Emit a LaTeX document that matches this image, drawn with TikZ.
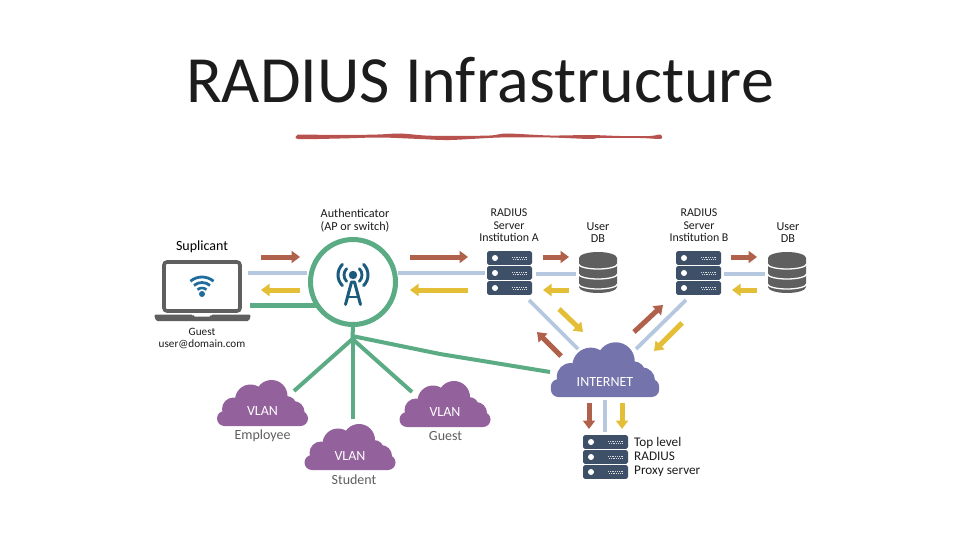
\documentclass[tikz,border=0pt]{standalone}
\usepackage{fontspec}
\setmainfont{Carlito}
\usetikzlibrary{arrows.meta}
\definecolor{rbrown}{HTML}{B0614B}
\definecolor{rblue}{HTML}{B5C8DF}
\definecolor{ryellow}{HTML}{E3BE36}
\definecolor{rgreen}{HTML}{5BAB85}
\definecolor{rpurple}{HTML}{93619B}
\definecolor{rinet}{HTML}{7473AB}
\definecolor{rserver}{HTML}{3D5067}
\definecolor{rgray}{HTML}{5F5F5F}
\definecolor{rteal}{HTML}{1B5C7E}
\definecolor{rwifi}{HTML}{1F6C9E}
\definecolor{rred}{HTML}{B8524F}
\definecolor{rtext}{HTML}{1C1C1C}
\tikzset{
  x=1pt,y=-1pt,
  brownarrow/.style={draw=rbrown,line width=5pt,-{Triangle[length=8.5pt,width=12pt]}},
  yellowarrow/.style={draw=ryellow,line width=5pt,-{Triangle[length=8.5pt,width=12pt]}},
  blueline/.style={draw=rblue,line width=3.8pt},
  greenline/.style={draw=rgreen,line width=4pt},
  lbl/.style={font=\fontsize{12.2}{12.3}\selectfont,text=rtext,align=center,inner sep=0pt},
  vlbl/.style={font=\fontsize{14}{15}\selectfont,text=#1,inner sep=0pt},
  sublbl/.style={font=\fontsize{14}{15}\selectfont,text=rgray,inner sep=0pt},
  cloud/.pic={
    \fill[pic actions,rounded corners=7.5pt] (-45.5,-15) rectangle (45.5,0);
    \fill[pic actions] (-33,-19) rectangle (34,-5);
    \fill[pic actions] (-29,-17) circle[radius=11.5pt];
    \fill[pic actions] (-12,-26) circle[radius=15.5pt];
    \fill[pic actions] (9,-30) circle[radius=16pt];
    \fill[pic actions] (24,-20) circle[radius=10pt];
    \fill[pic actions] (31,-14) circle[radius=11pt];
  },
  rack/.pic={
    \foreach \yy in {0,15,30}{
      \fill[rserver,rounded corners=1.8pt] (0,\yy) rectangle (45,\yy+13.9);
      \fill[white] (8,\yy+7) circle[radius=3pt];
      \draw[white!80!rserver,line width=.8pt,dash pattern=on .9pt off .9pt] (25,\yy+6) -- (40,\yy+6);
      \draw[white!80!rserver,line width=.8pt,dash pattern=on .9pt off .9pt] (26,\yy+8) -- (39,\yy+8);
    }
  },
  dbstack/.pic={
    \fill[rgray] (0,6) arc[start angle=180,end angle=360,x radius=19pt,y radius=6pt] arc[start angle=0,end angle=180,x radius=19pt,y radius=6pt] -- cycle;
    \fill[rgray] (0,6) -- (38,6) -- (38,35) arc[start angle=0,end angle=-180,x radius=19pt,y radius=6pt] -- cycle;
    \draw[white,line width=1.3pt] (-.5,12) arc[start angle=180,end angle=360,x radius=19.5pt,y radius=5pt];
    \draw[white,line width=1.3pt] (-.5,22) arc[start angle=180,end angle=360,x radius=19.5pt,y radius=5pt];
    \draw[white,line width=1.3pt] (-.5,32) arc[start angle=180,end angle=360,x radius=19.5pt,y radius=5pt];
  }
}
\begin{document}
\begin{tikzpicture}
\useasboundingbox (0,0) rectangle (960,540);
\fill[white] (0,0) rectangle (960,540);
% title
\node[font=\fontsize{66}{70}\selectfont,text=rtext,inner sep=0pt] (title) at (480,80) {RADIUS Infrastructure};
\fill[rred] plot[smooth] coordinates {(298,134.5)(345,135)(378,134.5)(400,133.5)(425,135.5)(450,136)(490,135.5)(507,133.5)(550,135.5)(590,135)(620,136)(650,136)(660,134.5)(662,137)(660,139)(640,138)(600,138)(590,139)(550,137.5)(500,137.5)(450,140)(420,139)(380,137.5)(340,138.5)(298,139)(298,134.5)};
% coordinates for connectors
\coordinate (hub) at (352.5,339);
\coordinate (circleb) at (353,325);
\coordinate (lapg) at (250,305);
\coordinate (authg) at (316,305);
\coordinate (vemp) at (294,391);
\coordinate (vstu) at (352.5,419);
\coordinate (vgue) at (412,392);
\coordinate (inetg) at (550,372);
% green lines
\draw[greenline] (circleb) -- (hub);
\draw[greenline,line width=5pt] (lapg) -- (authg);
\draw[greenline] (hub) -- (vemp);
\draw[greenline] (hub) -- (vstu);
\draw[greenline] (hub) -- (vgue);
\draw[greenline] (352,336) -- (440,354) -- (inetg);
% authenticator
\node[circle,draw=rgreen,line width=5pt,fill=white,minimum size=85pt,inner sep=0pt] (auth) at (353,282) {};
\draw[rteal,line width=3pt,line cap=round,line join=round] (345.5,304.5) -- (351.5,282) -- (354.5,282) -- (360.5,304.5);
\draw[rteal,line width=2.6pt] (348.3,297) -- (357.7,297);
\fill[rteal] (353,275) circle[radius=4.2pt];
\foreach \r/\w in {9/2.8,15/3}{
  \draw[rteal,line width=\w pt,line cap=round] ([shift={(135:\r pt)}]353,275) arc[start angle=135,end angle=225,radius=\r pt];
  \draw[rteal,line width=\w pt,line cap=round] ([shift={(45:\r pt)}]353,275) arc[start angle=45,end angle=-45,radius=\r pt];
}
% laptop
\draw[rgray,line width=3.6pt,rounded corners=3pt,fill=white] (164,262) rectangle (240,311);
\fill[rgray,rounded corners=1.5pt] (154,314.5) -- (193,314.5) -- (193,316.5) -- (211,316.5) -- (211,314.5) -- (251,314.5) -- (249,321) -- (156,321) -- cycle;
\fill[rwifi] (202,294) circle[radius=3pt];
\foreach \r/\w in {7/2.6,12.5/2.8,18/2.8}{
  \draw[rwifi,line width=\w pt] ([shift={(130:\r pt)}]202,295) arc[start angle=130,end angle=50,radius=\r pt];
}
% rows of arrows
\coordinate (s1a) at (261,257); \coordinate (s1b) at (300,257);
\coordinate (s2a) at (248,273); \coordinate (s2b) at (307,273);
\coordinate (s3a) at (300,290); \coordinate (s3b) at (261,290);
\draw[brownarrow] (s1a) -- (s1b);
\draw[blueline] (s2a) -- (s2b);
\draw[yellowarrow] (s3a) -- (s3b);
\coordinate (a1a) at (410,257); \coordinate (a1b) at (468,257);
\coordinate (a2a) at (398,273); \coordinate (a2b) at (485,273);
\coordinate (a3a) at (468,290); \coordinate (a3b) at (410,290);
\draw[brownarrow] (a1a) -- (a1b);
\draw[blueline] (a2a) -- (a2b);
\draw[yellowarrow] (a3a) -- (a3b);
\coordinate (d1a) at (543,257); \coordinate (d1b) at (569,257);
\coordinate (d2a) at (536,274); \coordinate (d2b) at (576,274);
\coordinate (d3a) at (569,290); \coordinate (d3b) at (543,290);
\draw[brownarrow] (d1a) -- (d1b);
\draw[blueline] (d2a) -- (d2b);
\draw[yellowarrow] (d3a) -- (d3b);
\coordinate (e1a) at (731,257); \coordinate (e1b) at (757,257);
\coordinate (e2a) at (724,274); \coordinate (e2b) at (765,274);
\coordinate (e3a) at (757,290); \coordinate (e3b) at (732,290);
\draw[brownarrow] (e1a) -- (e1b);
\draw[blueline] (e2a) -- (e2b);
\draw[yellowarrow] (e3a) -- (e3b);
% diagonals
\coordinate (f1a) at (529,300); \coordinate (f1b) at (578,349);
\coordinate (f2a) at (559,309); \coordinate (f2b) at (583,332);
\coordinate (f3a) at (561,356); \coordinate (f3b) at (537,332);
\draw[blueline] (f1a) -- (f1b);
\draw[yellowarrow] (f2a) -- (f2b);
\draw[brownarrow] (f3a) -- (f3b);
\coordinate (g1a) at (686,300); \coordinate (g1b) at (636,349);
\coordinate (g2a) at (634,332); \coordinate (g2b) at (663,305);
\coordinate (g3a) at (682,323); \coordinate (g3b) at (654,351);
\draw[blueline] (g1a) -- (g1b);
\draw[brownarrow] (g2a) -- (g2b);
\draw[yellowarrow] (g3a) -- (g3b);
% below internet
\coordinate (h1a) at (589,403); \coordinate (h1b) at (589,429);
\coordinate (h2a) at (605,400); \coordinate (h2b) at (605,432);
\coordinate (h3a) at (622,403); \coordinate (h3b) at (622,429);
\draw[brownarrow] (h1a) -- (h1b);
\draw[blueline] (h2a) -- (h2b);
\draw[yellowarrow] (h3a) -- (h3b);
% servers and dbs
\pic at (487,251) {rack};
\pic at (676,251) {rack};
\pic at (583,435) {rack};
\pic at (579,252) {dbstack};
\pic at (768,252) {dbstack};
% clouds
\pic[fill=rpurple] at (262.5,426) {cloud};
\pic[fill=rpurple] at (445,427) {cloud};
\pic[fill=rpurple] at (350,470) {cloud};
\pic[fill=rinet,scale=1.19] at (605,397) {cloud};
% labels
\node[lbl,font=\fontsize{14}{16}\selectfont,text=black] (lsup) at (202,246.5) {Suplicant};
\node[lbl,font=\fontsize{11.2}{12}\selectfont] (lguest) at (202,338.5) {Guest\\user@domain.com};
\node[lbl] (lauth) at (355,220.5) {Authenticator\\(AP or switch)};
\node[lbl,font=\fontsize{11.9}{12.4}\selectfont] (lrada) at (509,225.5) {RADIUS\\Server\\Institution A};
\node[lbl,font=\fontsize{11.9}{12.4}\selectfont] (lradb) at (699,225.5) {RADIUS\\Server\\Institution B};
\node[lbl] (ldba) at (598,232.5) {User\\DB};
\node[lbl] (ldbb) at (788,232.5) {User\\DB};
\node[vlbl=white] (v1) at (262.5,411.5) {VLAN};
\node[vlbl=white] (v2) at (445,412) {VLAN};
\node[vlbl=white] (v3) at (350,456.5) {VLAN};
\node[vlbl=white] (v4) at (605,382) {INTERNET};
\node[sublbl] (l1) at (262.5,435.5) {Employee};
\node[sublbl] (l2) at (445.5,436) {Guest};
\node[sublbl] (l3) at (354,480) {Student};
\node[lbl,align=left,anchor=west,font=\fontsize{13.2}{14}\selectfont] (ltop) at (634,457) {Top level\\RADIUS\\Proxy server};
\end{tikzpicture}
\end{document}
